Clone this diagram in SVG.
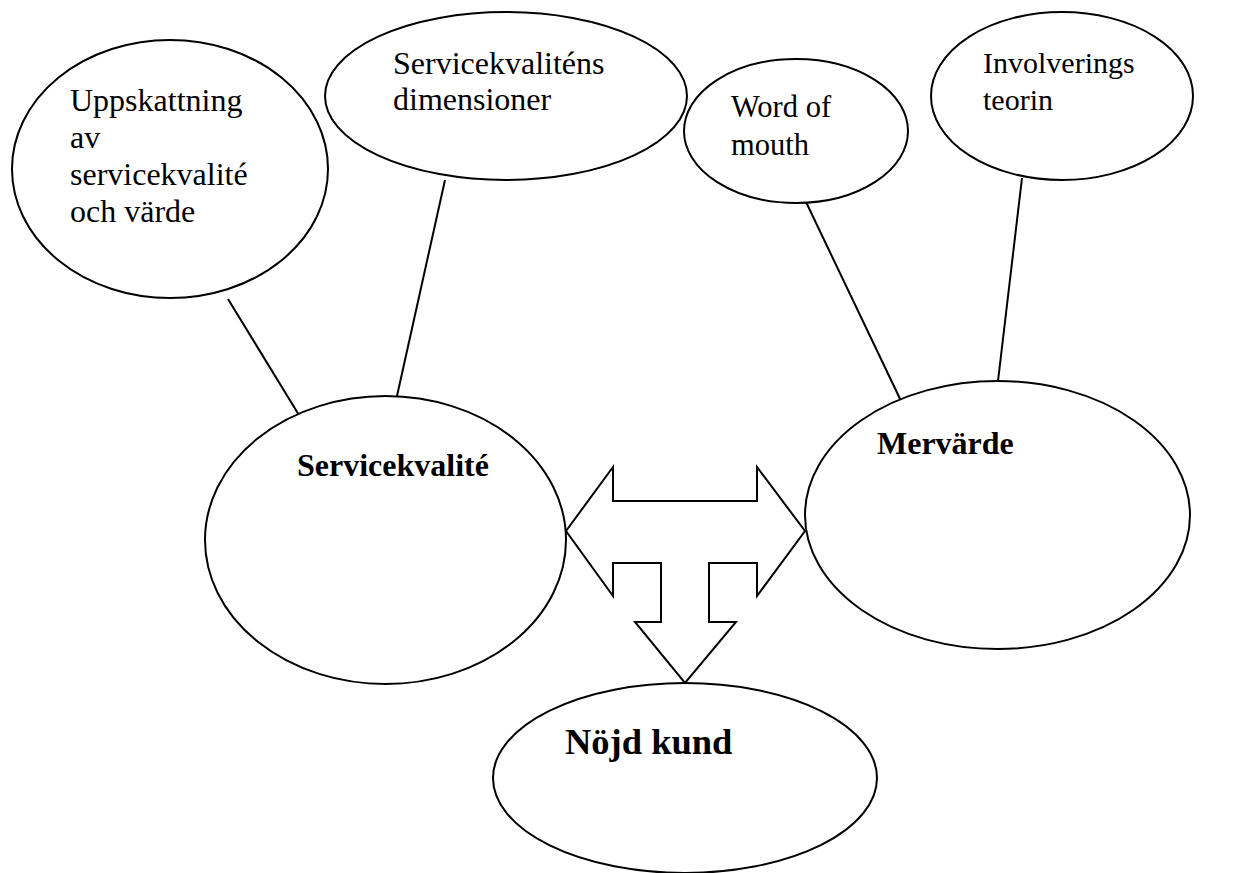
<svg xmlns="http://www.w3.org/2000/svg" width="1243" height="873" viewBox="0 0 1243 873">
<style>
.shape{fill:#fff;stroke:#000;stroke-width:2}
.conn{stroke:#000;stroke-width:2;fill:none}
.t{font-family:"Liberation Serif","Times New Roman",serif;font-size:31px;fill:#000}
.b{font-family:"Liberation Serif","Times New Roman",serif;font-size:32px;font-weight:bold;fill:#000}
</style>
<rect width="1243" height="873" fill="#fff"/>
<g id="connectors">
<line class="conn" x1="228" y1="299" x2="302" y2="420"/>
<line class="conn" x1="445" y1="180" x2="397" y2="396"/>
<line class="conn" x1="806" y1="202" x2="902" y2="403"/>
<line class="conn" x1="1022" y1="178" x2="998" y2="381"/>
</g>
<g id="n-uppskattning">
<ellipse class="shape" cx="170" cy="169" rx="158" ry="129"/>
<text class="t" x="70" y="111" style="font-size:32px">Uppskattning</text>
<text class="t" x="70" y="148" style="font-size:32px">av</text>
<text class="t" x="70" y="185" style="font-size:32px">servicekvalité</text>
<text class="t" x="70" y="222" style="font-size:32px">och värde</text>
</g>
<g id="n-dimensioner">
<ellipse class="shape" cx="506" cy="96" rx="181" ry="84"/>
<text class="t" x="393" y="74" style="font-size:32px">Servicekvaliténs</text>
<text class="t" x="393" y="110" style="font-size:32px">dimensioner</text>
</g>
<g id="n-wordofmouth">
<ellipse class="shape" cx="796" cy="131" rx="112" ry="72"/>
<text class="t" x="731" y="117" style="font-size:30.5px">Word of</text>
<text class="t" x="731" y="155" style="font-size:30.5px">mouth</text>
</g>
<g id="n-involverings">
<ellipse class="shape" cx="1062" cy="96" rx="131" ry="84"/>
<text class="t" x="983" y="73" style="font-size:30px">Involverings</text>
<text class="t" x="983" y="110" style="font-size:30px">teorin</text>
</g>
<g id="n-servicekvalite">
<ellipse class="shape" cx="385.5" cy="540" rx="180.5" ry="144"/>
<text class="b" x="297" y="476">Servicekvalité</text>
</g>
<g id="n-mervarde">
<ellipse class="shape" cx="997.5" cy="515" rx="192.5" ry="134"/>
<text class="b" x="877" y="454">Mervärde</text>
</g>
<g id="n-nojdkund">
<ellipse class="shape" cx="685" cy="778" rx="192" ry="95"/>
<text class="b" x="565" y="754" style="font-size:36.5px">Nöjd kund</text>
</g>
<g id="arrow">
<polygon class="shape" points="566,531 613,467 613,501 757,501 757,467 805,531 757,596 757,563 709,563 709,622 736,622 685,683 635,622 661,622 661,563 613,563 613,596"/>
</g>
</svg>
